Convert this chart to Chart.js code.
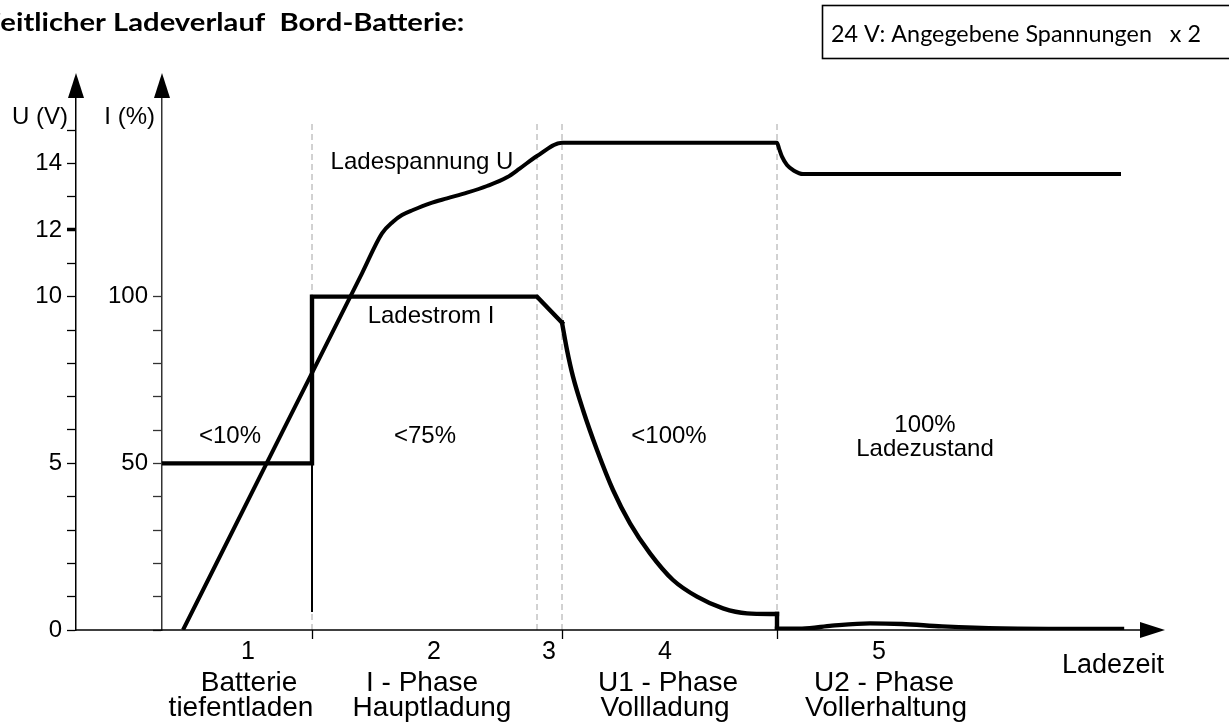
<!DOCTYPE html>
<html>
<head>
<meta charset="utf-8">
<script src="https://cdn.jsdelivr.net/npm/chart.js@4.4.0/dist/chart.umd.min.js"></script>
<style>
  html, body { margin: 0; padding: 0; background: #fff; }
  canvas { display: block; }
</style>
</head>
<body>
<canvas id="chart" width="1229" height="724"></canvas>
<script>
// Ladezeit is in arbitrary time units (0..100), U in volt, I in percent

var phaseBounds = [15, 37.5, 40, 61.5];
var phaseTicks  = [15, 40, 61.5];
var dashTop     = 15.22;

var uTime = [2.1, 12.0, 20.0, 22.0, 23.1, 24.0, 25.1, 26.8, 28.5, 30.5, 32.5, 34.5, 35.8, 37.5, 40.0, 61.5, 61.7, 62.0, 62.5, 63.2, 64.1, 95.9];
var uVolt = [0, 5.92, 10.7, 11.9, 12.25, 12.45, 12.6, 12.8, 12.95, 13.12, 13.32, 13.58, 13.85, 14.22, 14.62, 14.62, 14.45, 14.2, 13.95, 13.78, 13.68, 13.68];

// current: step phase, decay phase, drop and tail
var iHeadTime  = [0, 15, 15, 37.5, 40.0];
var iHeadPct   = [50, 50, 100, 100, 92.2];
var iDecayTime = [40.0, 40.5, 41.1, 42.1, 43.5, 45.1, 46.8, 48.8, 51.1, 53.5, 56.1, 58.5, 61.5];
var iDecayPct  = [92.2, 84, 76, 66, 54, 42, 32, 23, 15, 10, 6.5, 5, 4.8];
var iDropTime  = [61.5, 61.5];
var iDropPct   = [4.8, 0.4];
var iTailTime  = [61.5, 64, 67, 70.8, 74, 78, 84, 96];
var iTailPct   = [0.4, 0.4, 1.3, 2, 1.8, 1.1, 0.5, 0.3];

var iStubTime = [15, 15];
var iStubPct  = [5.4, 50];

var uTicks    = [0, 1, 2, 3, 4, 5, 6, 7, 8, 9, 10, 11, 12, 13, 14, 15];
var uLabelled = [0, 5, 10, 12, 14];
var iTicks    = [0, 10, 20, 30, 40, 50, 60, 70, 80, 90, 100];
var iLabelled = [50, 100];

var phaseNumbers = ['1', '2', '3', '4', '5'];
var phaseNames   = [['Batterie', 'tiefentladen'], ['I - Phase', 'Hauptladung'], ['U1 - Phase', 'Vollladung'], ['U2 - Phase', 'Vollerhaltung']];
var stateLabels  = ['<10%', '<75%', '<100%'];

var titleText = 'Zeitlicher Ladeverlauf  Bord-Batterie:';
var noteText  = '24 V: Angegebene Spannungen   x 2';

// where the texts sit (x in Ladezeit units)
var numberX = [8.6, 27.2, 38.7, 50.3, 71.7];
var nameX   = [[8.7, 7.9], [26.0, 27.0], [50.6, 50.3], [72.2, 72.4]];
var stateX  = [6.8, 26.3, 50.7];

function points(xs, ys) {
    return xs.map(function (x, k) { return { x: x, y: ys[k] }; });
}

var FONT = '"Liberation Sans", Arial, sans-serif';
var HEAD_FONT = 'Lato, "Open Sans", sans-serif';
Chart.defaults.font.family = FONT;
Chart.defaults.color = '#000';

// text squeezed horizontally so that it is `width` px wide
function fitText(ctx, text, x, y, font, width) {
    ctx.font = font;
    var w = ctx.measureText(text).width;
    ctx.save();
    ctx.translate(x, y);
    ctx.scale(width / w, 1);
    ctx.fillText(text, 0, 0);
    ctx.restore();
}

var overlay = {
    id: 'overlay',
    afterDraw: function (chart) {
        var ctx = chart.ctx,
            xs = chart.scales.x,
            us = chart.scales.u,
            is = chart.scales.i;
        var y0 = us.getPixelForValue(0);
        var xEnd = xs.getPixelForValue(100) + 3;

        ctx.save();
        ctx.fillStyle = '#000';
        ctx.strokeStyle = '#000';

        // x axis with arrow
        ctx.lineWidth = 1.5;
        ctx.beginPath();
        ctx.moveTo(us.right, y0);
        ctx.lineTo(xEnd - 20, y0);
        ctx.stroke();
        ctx.beginPath();
        ctx.moveTo(xEnd, y0);
        ctx.lineTo(xEnd - 25, y0 - 8);
        ctx.lineTo(xEnd - 25, y0 + 8);
        ctx.closePath();
        ctx.fill();

        // arrows on top of both y axes
        [us.right, is.right].forEach(function (ax) {
            ctx.beginPath();
            ctx.moveTo(ax, 73);
            ctx.lineTo(ax - 8, 98);
            ctx.lineTo(ax + 8, 98);
            ctx.closePath();
            ctx.fill();
        });

        // small ticks under the x axis at phase borders
        ctx.lineWidth = 1.3;
        phaseTicks.forEach(function (t) {
            var px = Math.round(xs.getPixelForValue(t)) + 0.5;
            ctx.beginPath();
            ctx.moveTo(px, y0);
            ctx.lineTo(px, y0 + 9);
            ctx.stroke();
        });

        // axis titles
        ctx.font = '24px ' + FONT;
        ctx.textBaseline = 'alphabetic';
        ctx.textAlign = 'right';
        ctx.fillText('U (V)', us.right - 8, 124);
        ctx.fillText('I (%)', is.right - 7, 124);

        // phase numbers and names below the axis
        ctx.textAlign = 'center';
        ctx.font = '25px ' + FONT;
        phaseNumbers.forEach(function (n, k) {
            ctx.fillText(n, xs.getPixelForValue(numberX[k]), 659);
        });
        ctx.font = '28px ' + FONT;
        phaseNames.forEach(function (lines, k) {
            ctx.fillText(lines[0], xs.getPixelForValue(nameX[k][0]), 691);
            ctx.fillText(lines[1], xs.getPixelForValue(nameX[k][1]), 716);
        });
        ctx.textAlign = 'right';
        ctx.font = '27px ' + FONT;
        ctx.fillText('Ladezeit', xEnd - 1, 673);

        // texts inside the plot
        ctx.textAlign = 'center';
        ctx.font = '24px ' + FONT;
        ctx.fillText('Ladespannung U', xs.getPixelForValue(26.0), 169);
        ctx.fillText('Ladestrom I', xs.getPixelForValue(26.9), 323);
        stateLabels.forEach(function (s, k) {
            ctx.fillText(s, xs.getPixelForValue(stateX[k]), 443);
        });
        ctx.fillText('100%', xs.getPixelForValue(76.3), 432);
        ctx.fillText('Ladezustand', xs.getPixelForValue(76.3), 456);

        // clipped heading, top left
        ctx.textAlign = 'left';
        ctx.font = 'bold 25px ' + HEAD_FONT;
        var visW = ctx.measureText(titleText.slice(1)).width;
        var sx = 464 / visW;
        var zw = ctx.measureText(titleText.charAt(0)).width * sx;
        ctx.save();
        ctx.translate(1 - zw, 31);
        ctx.scale(sx, 1);
        ctx.fillText(titleText, 0, 0);
        ctx.restore();

        // note box, top right
        ctx.lineWidth = 1.6;
        ctx.strokeRect(822.5, 5.5, 440, 53);
        fitText(ctx, noteText, 831, 42, '23.5px ' + HEAD_FONT, 370);

        ctx.restore();
    }
};

var lineStyle = { borderColor: '#000', pointRadius: 0, tension: 0, fill: false, borderCapStyle: 'square' };

var datasets = phaseBounds.map(function (t) {
    return Object.assign({}, lineStyle, {
        data: points([t, t], [0, dashTop]),
        yAxisID: 'u',
        borderColor: '#a4a4a4',
        borderWidth: 1,
        borderDash: [6, 4],
        borderCapStyle: 'butt',
        order: 5
    });
});

datasets.push(Object.assign({}, lineStyle, {
    label: 'Ladespannung U',
    data: points(uTime, uVolt),
    yAxisID: 'u',
    borderWidth: 4,
    cubicInterpolationMode: 'monotone',
    borderCapStyle: 'butt',
    order: 0
}));

[
    [iHeadTime, iHeadPct, false],
    [iDecayTime, iDecayPct, true],
    [iDropTime, iDropPct, false],
    [iTailTime, iTailPct, true]
].forEach(function (part) {
    var ds = Object.assign({}, lineStyle, {
        label: 'Ladestrom I',
        data: points(part[0], part[1]),
        yAxisID: 'i',
        borderWidth: 4.4,
        order: 0
    });
    if (part[2]) ds.cubicInterpolationMode = 'monotone';
    datasets.push(ds);
});

datasets.push(Object.assign({}, lineStyle, {
    data: points(iStubTime, iStubPct),
    yAxisID: 'i',
    borderWidth: 2,
    borderCapStyle: 'butt',
    order: 1
}));

var ctx = document.getElementById('chart');

var myChart = new Chart(ctx, {
    type: 'line',
    data: { datasets: datasets },
    plugins: [overlay],
    options: {
        responsive: false,
        animation: false,
        layout: { padding: { top: 90, right: 67, bottom: 94, left: 0 } },
        plugins: {
            legend: { display: false },
            tooltip: { enabled: false },
            title: { display: false }
        },
        scales: {
            x: { type: 'linear', min: 0, max: 100, display: false },
            u: {
                type: 'linear',
                position: 'left',
                weight: 1,
                min: 0,
                max: 16.2,
                afterBuildTicks: function (s) { s.ticks = uTicks.map(function (v) { return { value: v }; }); },
                afterFit: function (s) { s.width = 76; },
                border: { display: true, color: '#000', width: 1.5 },
                grid: {
                    drawOnChartArea: false,
                    drawTicks: true,
                    tickLength: 9,
                    tickColor: '#000',
                    tickWidth: function (c) { return c.tick && c.tick.value === 12 ? 3.5 : 1.3; }
                },
                ticks: {
                    padding: 5,
                    autoSkip: false,
                    color: '#000',
                    font: { size: 24 },
                    callback: function (v) { return uLabelled.indexOf(v) >= 0 ? String(v) : ''; }
                }
            },
            i: {
                type: 'linear',
                position: 'left',
                weight: 0,
                min: 0,
                max: 162,
                afterBuildTicks: function (s) { s.ticks = iTicks.map(function (v) { return { value: v }; }); },
                afterFit: function (s) { s.width = 86; },
                border: { display: true, color: '#333', width: 1.5 },
                grid: {
                    drawOnChartArea: false,
                    drawTicks: true,
                    tickLength: 9,
                    tickColor: '#333',
                    tickWidth: 1.3
                },
                ticks: {
                    padding: 5,
                    autoSkip: false,
                    color: '#000',
                    font: { size: 24 },
                    callback: function (v) { return iLabelled.indexOf(v) >= 0 ? String(v) : ''; }
                }
            }
        }
    }
});
</script>
</body>
</html>
